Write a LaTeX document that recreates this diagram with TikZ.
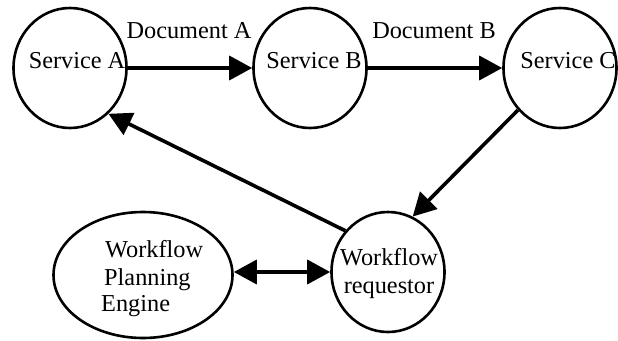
\documentclass[tikz,border=0pt]{standalone}
\usepackage{fontspec}
\setmainfont{Liberation Serif}
\usetikzlibrary{shapes.geometric,arrows.meta}
\begin{document}
\begin{tikzpicture}[x=1pt,y=-1pt,
  svc/.style={draw,ellipse,line width=2.6pt,inner sep=0pt,minimum width=113pt,minimum height=120pt},
  txt/.style={inner sep=0pt,anchor=base,font=\fontsize{24.3}{28}\selectfont},
  conn/.style={line width=3.6pt,-{Triangle[length=23pt,width=24pt]}},
  dconn/.style={line width=3.6pt,{Triangle[length=23pt,width=24pt]}-{Triangle[length=23pt,width=24pt]}}]
\useasboundingbox (0,0) rectangle (618,340);
\node[svc] (A) at (70,68) {};
\node[svc] (B) at (310,68) {};
\node[svc] (C) at (560,68) {};
\node[svc] (R) at (388,272) {};
\node[svc,minimum width=179pt,minimum height=126pt] (E) at (143,275) {};
\node[txt] (tA) at (77,68) {Service A};
\node[txt] (tB) at (314,68) {Service B};
\node[txt] (tC) at (568,68) {Service C};
\node[txt] (dA) at (189,38) {Document A};
\node[txt] (dB) at (434,38) {Document B};
\node[txt] (r1) at (389,265) {Workflow};
\node[txt] (r2) at (389,293) {requestor};
\node[txt,anchor=base west] (e1) at (105,257) {Workflow};
\node[txt,anchor=base west] (e2) at (104,285) {Planning};
\node[txt,anchor=base west] (e3) at (101,311) {Engine};
\draw[conn] (A.east) -- (B.west);
\draw[conn] (B.east) -- (C.west);
\draw[conn] (C.225) -- (R.66);
\draw[conn] (R.136) -- (A.310);
\draw[dconn] (R.west -| E.east) -- (R.west);
\end{tikzpicture}
\end{document}
